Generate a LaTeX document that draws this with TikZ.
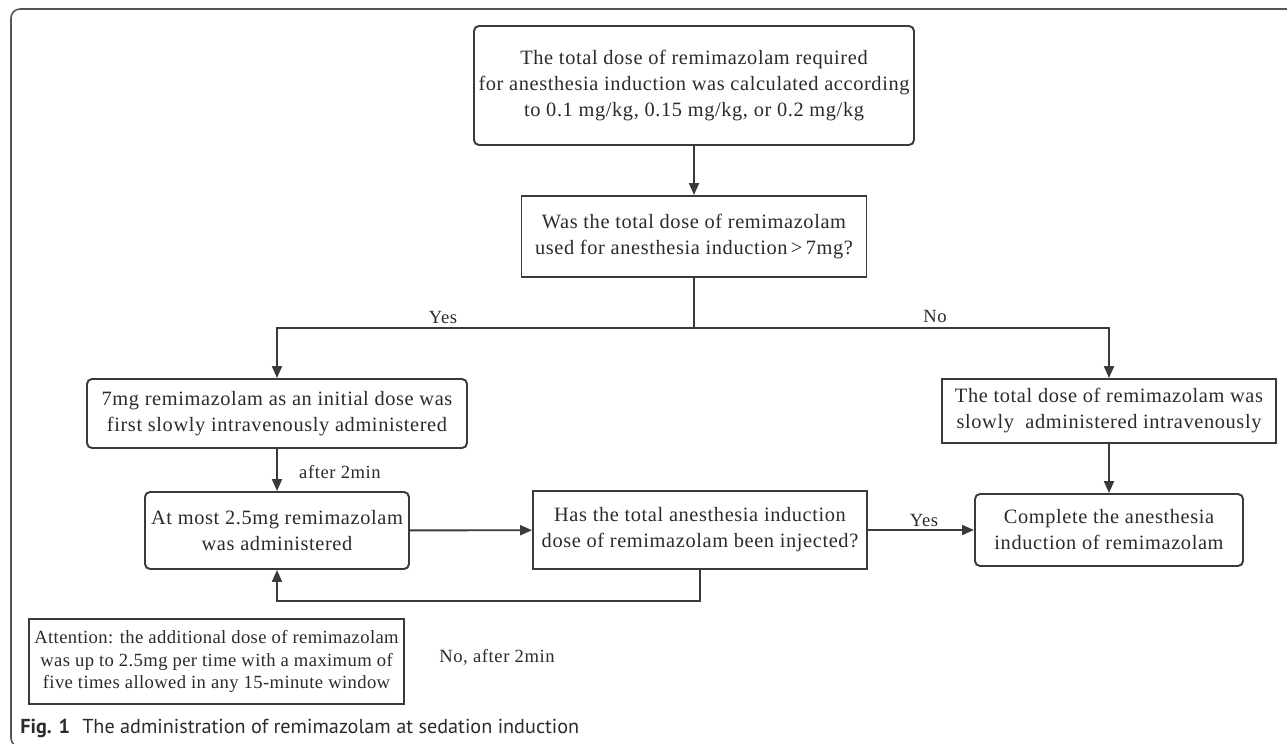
\documentclass[tikz,border=0pt]{standalone}
\usepackage{fontspec}
\setmainfont{Liberation Serif}[LetterSpace=3]
\newfontfamily\notefont{Liberation Serif}[LetterSpace=2]
\newfontfamily\capfont{PT Sans}
\usepackage{tikz}
\usetikzlibrary{arrows.meta}
\definecolor{linegray}{HTML}{3A3A3A}
\definecolor{textgray}{HTML}{2B2B2B}
\definecolor{framegray}{HTML}{555555}

\begin{document}
\begin{tikzpicture}[
    box/.style={draw=linegray, line width=1.1pt, align=center, inner sep=0pt, text=textgray, font=\fontsize{11.6}{14.8}\selectfont},
    rbox/.style={box, rounded corners=0.1cm},
    lbl/.style={text=textgray, inner sep=0pt, font=\fontsize{10.6}{12}\selectfont},
    conn/.style={draw=linegray, line width=1.1pt},
    >={Triangle[length=0.24cm, width=0.2cm]}
  ]
    \useasboundingbox (0,0) rectangle (25.74,-14.86);
    \fill[white] (0,0) rectangle (25.74,-14.86);

    % frame
    \draw[framegray, line width=0.9pt, rounded corners=0.18cm] (26.0,-0.18) -- (0.22,-0.18) -- (0.22,-14.94) -- (1.0,-14.94);

    \node[rbox, minimum width=8.8cm,  minimum height=2.38cm]  (TD)  at (13.88, -1.71)  {The total dose of remimazolam required \\ for anesthesia induction was calculated according \\ to 0.1 mg/kg, 0.15 mg/kg, or 0.2 mg/kg};
    \node[box,  minimum width=6.9cm,  minimum height=1.62cm]  (Q)   at (13.88, -4.73)  {Was the total dose of remimazolam \\ used for anesthesia induction\,>\,7mg?};

    \node[rbox, minimum width=7.6cm,  minimum height=1.38cm]  (ID)  at ( 5.54, -8.27)  {7mg remimazolam as an initial dose was \\ first slowly intravenously administered};
    \node[rbox, minimum width=5.28cm, minimum height=1.54cm]  (AM)  at ( 5.54, -10.61) {At most 2.5mg remimazolam \\ was administered};
    \node[box,  minimum width=6.68cm, minimum height=1.56cm]  (HT)  at (14.0, -10.6)   {Has the total anesthesia induction \\ dose of remimazolam been injected?};

    \node[box,  minimum width=6.68cm, minimum height=1.28cm]  (SA)  at (22.18, -8.22)  {The total dose of remimazolam was \\ slowly\ \ administered intravenously};
    \node[rbox, minimum width=5.36cm, minimum height=1.44cm]  (C)   at (22.18, -10.6)  {Complete the anesthesia \\ induction of remimazolam};

    \node[box, line width=1.3pt, minimum width=7.5cm, minimum height=1.7cm, font=\notefont\fontsize{10.6}{12.8}\selectfont] (A) at (4.33, -13.23) {Attention: the additional dose of remimazolam \\ was up to 2.5mg per time with a maximum of \\ five times allowed in any 15-minute window};

    \coordinate (S) at (13.88, -6.56);

    \node[lbl] (Y1)  at ( 8.86, -6.34)  {Yes};
    \node[lbl] (N1)  at (18.70, -6.32)  {No};
    \node[lbl] (A2)  at ( 6.80, -9.44)  {after 2min};
    \node[lbl] (Y2)  at (18.48, -10.40) {Yes};
    \node[lbl] (N2)  at ( 9.94, -13.14) {No, after 2min};

    \node[anchor=base west, inner sep=0pt, text=textgray, font=\capfont\fontsize{11.5}{13}\selectfont] (F) at (0.40, -14.66) {\textbf{Fig. 1}\hspace{0.6em}The administration of remimazolam at sedation induction};

    \draw[conn, ->] (TD) -- (Q);
    \draw[conn] (Q) -- (S);
    \draw[conn, ->] (S) -| (ID);
    \draw[conn, ->] (S) -| (SA);

    \draw[conn, ->] (ID) -- (AM);
    \draw[conn, ->] (AM) -- (HT);
    \draw[conn, ->] (HT) -- (C);
    \draw[conn, ->] (SA) -- (C);
    \draw[conn, ->] (HT.south) -- ++(0,-0.62) -| (AM.south);
\end{tikzpicture}
\end{document}
